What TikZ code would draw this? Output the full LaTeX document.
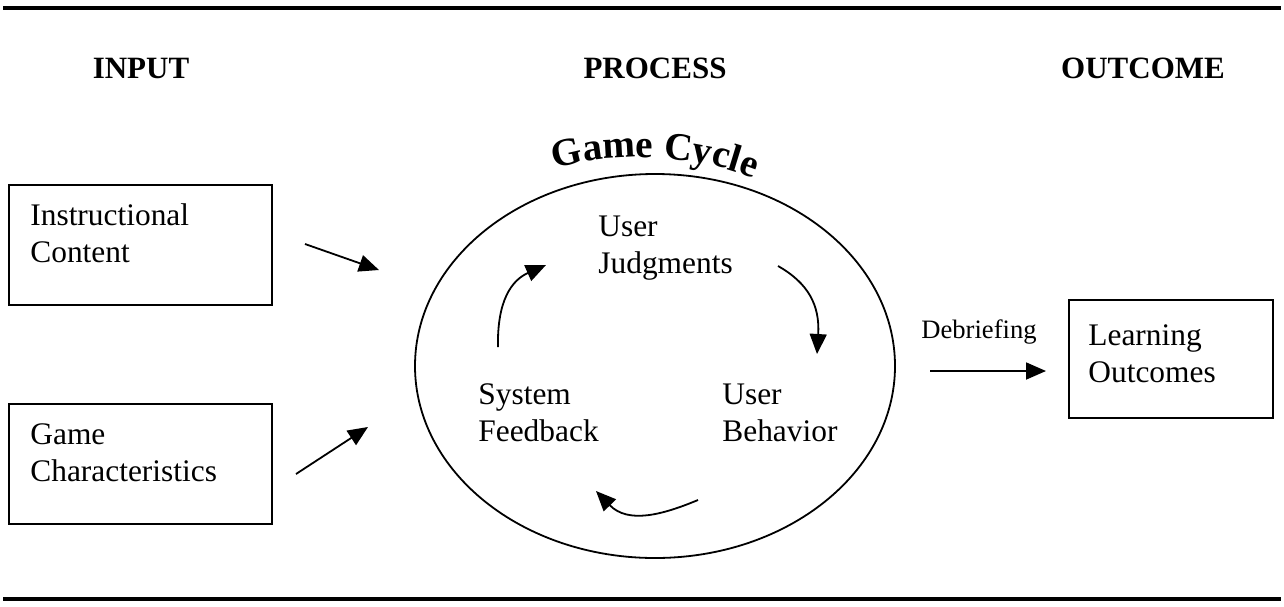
\documentclass[tikz,border=0pt]{standalone}
\usepackage{fontspec}
\setmainfont{Liberation Serif}
\usetikzlibrary{arrows.meta,positioning,calc,shapes.geometric,decorations.text}
\newcommand\gcfont{\fontsize{19.5}{24}\selectfont\bfseries}

\begin{document}
\begin{tikzpicture}[x=0.5pt,y=-0.5pt,>={Triangle[length=10pt,width=8.5pt]},
  box/.style={draw,line width=0.9pt,inner sep=0pt},
  txt/.style={align=left,inner sep=0pt,font=\fontsize{15.7}{18.5}\selectfont},
  head/.style={inner sep=0pt,font=\fontsize{15.5}{18}\selectfont\bfseries},
  arr/.style={->,line width=0.9pt}]
\useasboundingbox (0,0) rectangle (1284,606);
\draw[line width=2pt] (3,8) -- (1281,8);
\draw[line width=2pt] (3,599) -- (1281,599);

% column heads
\node (in) [head,anchor=base] at (141,78) {INPUT};
\node (pr) [head,anchor=base] at (655,78) {PROCESS};
\node (out) [head,anchor=base] at (1143,78) {OUTCOME};

% input boxes (base = last line)
\node (content) [box,minimum width=131.5pt,minimum height=60pt] at (140.5,245) {};
\node (content-t) [txt,anchor=base west] at (30,262) {Instructional\\Content};
\node (game) [box,minimum width=131.5pt,minimum height=60pt] at (140.5,464) {};
\node (game-t) [txt,anchor=base west] at (30,481) {Game\\Characteristics};

% game cycle
\node (cycle) [draw,ellipse,line width=0.9pt,minimum width=240pt,minimum height=192pt,inner sep=0pt] at (655,366) {};
\coordinate (gc-l) at (546,172);
\coordinate (gc-r) at (762,182);
\path[decorate,decoration={text along path,text align=center,text={|\gcfont|Game Cycle}}]
  (gc-l) .. controls (592,154) and (688,148) .. (gc-r);
\node (judg) [txt,anchor=base west] at (598,273) {User\\Judgments};
\node (behav) [txt,anchor=base west] at (722,441) {User\\Behavior};
\node (feed) [txt,anchor=base west] at (478,441) {System\\Feedback};

\coordinate (j-s) at (778,266);
\coordinate (j-e) at (817,354);
\coordinate (b-s) at (698,500);
\coordinate (b-e) at (596,491);
\coordinate (f-s) at (498,347);
\coordinate (f-e) at (546,265);
\draw[arr] (j-s) .. controls (808,283) and (820,305) .. (j-e);
\draw[arr] (b-s) .. controls (662,515) and (628,524) .. (b-e);
\draw[arr] (f-s) .. controls (497,300) and (512,280) .. (f-e);

% inputs into the cycle
\coordinate (c-s) at (305,244);
\coordinate (c-e) at (379,270);
\coordinate (g-s) at (296,474);
\coordinate (g-e) at (368,427);
\draw[arr] (c-s) -- (c-e);
\draw[arr] (g-s) -- (g-e);

% outcome
\node (learn) [box,minimum width=102pt,minimum height=59pt] at (1171,359) {};
\node (learn-t) [txt,anchor=base west] at (1088,382) {Learning\\Outcomes};
\node (deb) [anchor=base,inner sep=0pt,font=\fontsize{13.3}{16}\selectfont] at (979,338) {Debriefing};
\coordinate (d-s) at (930,371);
\coordinate (d-e) at (1046,371);
\draw[arr] (d-s) -- (d-e);
\end{tikzpicture}
\end{document}
